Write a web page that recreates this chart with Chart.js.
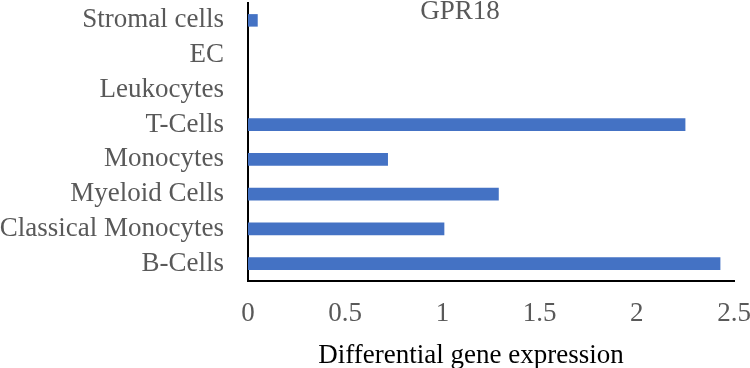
<!DOCTYPE html>
<html>
<head>
<style>
  html, body { margin: 0; padding: 0; background: #fff; }
  #wrap { width: 750px; height: 368px; }
</style>
</head>
<body>
<div id="wrap"><canvas id="myChart"></canvas></div>

<script src="https://cdn.jsdelivr.net/npm/chart.js"></script>
<script>
// data, top row first
let cellTypes = ['Stromal cells', 'EC', 'Leukocytes', 'T-Cells', 'Monocytes', 'Myeloid Cells', 'Classical Monocytes', 'B-Cells'];
let expression = [0.05, 0, 0, 2.25, 0.72, 1.29, 1.01, 2.43];
let xTicks = [0, 0.5, 1, 1.5, 2, 2.5];
let chartTitle = 'GPR18';
let xTitle = 'Differential gene expression';

let serif = "'Liberation Serif', 'Times New Roman', serif";

// title and axis title sit off-centre in the original, so draw them by hand
let textPlugin = {
    id: 'extraText',
    afterDraw(chart) {
        let c = chart.ctx;
        let area = chart.chartArea;
        c.save();
        c.font = '27px ' + serif;
        c.textAlign = 'center';
        c.textBaseline = 'alphabetic';
        c.fillStyle = '#595959';
        c.fillText(chartTitle, area.left + 212, 19);
        c.fillStyle = '#000000';
        c.fillText(xTitle, area.left + 223, 363);
        c.restore();
    }
};

let ctx = document.getElementById('myChart').getContext('2d');
let chart = new Chart(ctx, {
    type: 'bar',
    data: {
        labels: cellTypes,
        datasets: [{
            data: expression,
            backgroundColor: '#4472C4',
            barPercentage: 0.36,
            categoryPercentage: 1
        }]
    },
    options: {
        indexAxis: 'y',
        responsive: true,
        maintainAspectRatio: false,
        animation: false,
        layout: { padding: { top: 3, bottom: 0, left: 0, right: 0 } },
        plugins: {
            legend: { display: false },
            tooltip: { enabled: false }
        },
        scales: {
            x: {
                min: 0,
                max: 2.5,
                afterBuildTicks: (axis) => { axis.ticks = xTicks.map(v => ({ value: v })); },
                afterFit: (axis) => { axis.height = 87; axis.paddingRight = 16; },
                grid: { display: false, drawTicks: false },
                border: { display: true, color: '#000000', width: 2 },
                ticks: {
                    padding: 17,
                    color: '#595959',
                    font: { family: serif, size: 27 },
                    callback: (v) => String(v)
                }
            },
            y: {
                afterFit: (axis) => { axis.width = 248; axis.paddingTop = 0; axis.paddingBottom = 0; },
                grid: { display: false, drawTicks: false },
                border: { display: true, color: '#000000', width: 2 },
                ticks: {
                    autoSkip: false,
                    padding: 24,
                    color: '#595959',
                    font: { family: serif, size: 27 }
                }
            }
        }
    },
    plugins: [textPlugin]
});
</script>

</body>
</html>
